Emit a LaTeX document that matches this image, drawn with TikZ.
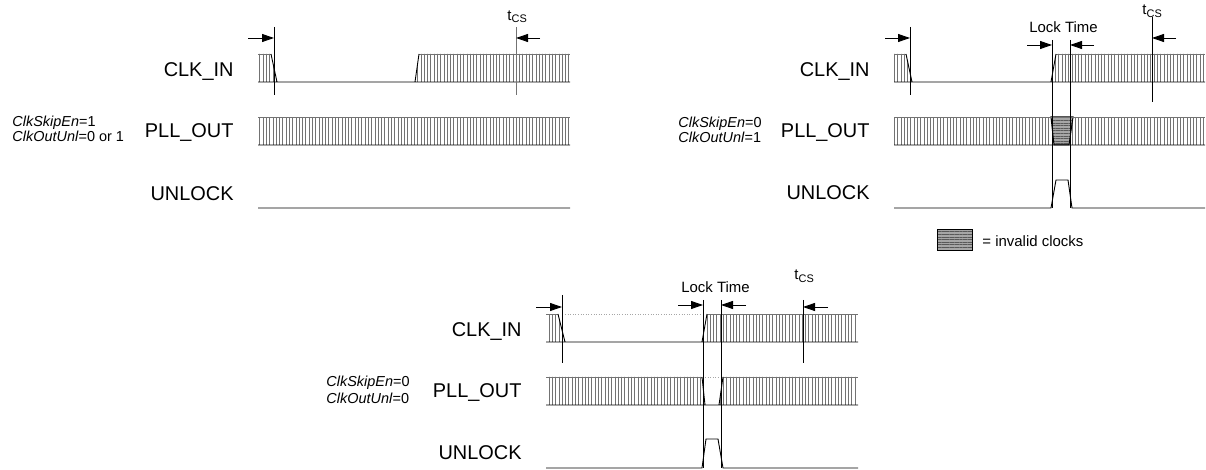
\documentclass[tikz,border=0pt]{standalone}
\usepackage{fontspec}
\setmainfont{Liberation Sans}
\usetikzlibrary{arrows.meta,patterns.meta}
\newcommand{\clkfill}[1]
{   \fill[pattern={Lines[angle=90,distance=3.3pt,line width=.6pt]},pattern color=black!55] #1;
}
\newcommand{\badfill}[1]
{   \fill[black!35] #1;
    \fill[pattern={Lines[angle=0,distance=2.6pt,line width=.5pt]},pattern color=black!65] #1;
    \draw[line width=1bp] #1;
}
\newcommand{\tcs}{t\raisebox{-2.5pt}{\fontsize{11}{11}\selectfont CS}}

\begin{document}
\begin{tikzpicture}[x=1bp,y=-1bp,line width=.9bp,
   lbl/.style={anchor=base east,inner sep=0pt,font=\fontsize{20}{24}\selectfont},
   cfg/.style={anchor=base west,inner sep=0pt,font=\fontsize{14.5}{16}\selectfont},
   note/.style={anchor=base,inner sep=0pt,font=\fontsize{15}{18}\selectfont},
   edge/.style={black!55},
   dim/.style={-{Triangle[length=12bp,width=8bp]}}]
   \useasboundingbox (0,0) rectangle (1206,470);

   \node[lbl] (clkA) at (234,77) {CLK\_IN};
   \node[lbl] (pllA) at (234,138) {PLL\_OUT};
   \node[lbl] (unlA) at (234,200.5) {UNLOCK};
   \node[cfg] (skipA) at (12,126.5) {\textit{ClkSkipEn}=1};
   \node[cfg] (outA) at (12,141.5) {\textit{ClkOutUnl}=0 or 1};
   \clkfill{(258,54) -- (271,54) -- (277,82) -- (258,82) -- cycle}
   \clkfill{(415,82) -- (419,54) -- (570,54) -- (570,82) -- cycle}
   \clkfill{(258,117) rectangle (570,145)}
   \draw[edge] (258,54) -- (271,54) (419,54) -- (570,54) (258,117) -- (570,117);
   \draw (271,54) -- (277,82) (258,82) -- (570,82) (415,82) -- (419,54) (258,145) -- (570,145) (258,208) -- (570,208);
   \draw (274,27) -- (274,95);
   \draw[black!55] (516,27) -- (516,95);
   \draw[dim] (248,38) -- (274,38);
   \draw[dim] (540,38) -- (516,38);
   \node[note,anchor=base west] (tcsA) at (507,20.5) {\tcs};

   \node[lbl] (clkB) at (870,77) {CLK\_IN};
   \node[lbl] (pllB) at (870,138) {PLL\_OUT};
   \node[lbl] (unlB) at (870,200) {UNLOCK};
   \node[cfg] (skipB) at (678,127.7) {\textit{ClkSkipEn}=0};
   \node[cfg] (outB) at (678,142.7) {\textit{ClkOutUnl}=1};
   \clkfill{(894,54) -- (906,54) -- (912,82) -- (894,82) -- cycle}
   \clkfill{(1051,82) -- (1056,54) -- (1205,54) -- (1205,82) -- cycle}
   \clkfill{(894,117) rectangle (1205,145)}
   \badfill{(1051,117) -- (1073,117) -- (1069,145) -- (1054,145) -- cycle}
   \draw[edge] (894,54) -- (906,54) (1056,54) -- (1205,54) (894,117) -- (1205,117);
   \draw (906,54) -- (912,82) (894,82) -- (1205,82) (1051,82) -- (1056,54) (894,145) -- (1205,145);
   \draw (894,208) -- (1051,208) -- (1056,180) -- (1068,180) -- (1072,208) -- (1205,208);
   \draw (910,27) -- (910,95) (1152,17) -- (1152,102) (1052,40) -- (1052,208) (1070,40) -- (1070,208);
   \draw[dim] (885,38) -- (910,38);
   \draw[dim] (1176,38) -- (1152,38);
   \draw[dim] (1027,45) -- (1052,45);
   \draw[dim] (1094,45) -- (1070,45);
   \node[note] (lockB) at (1063.5,33) {Lock Time};
   \node[note,anchor=base west] (tcsB) at (1142,15) {\tcs};
   \badfill{(937,230) rectangle (972,251)}
   \node[note,anchor=base west] (keyB) at (982,246.5) {= invalid clocks};

   \node[lbl] (clkC) at (522,336.7) {CLK\_IN};
   \node[lbl] (pllC) at (522,398) {PLL\_OUT};
   \node[lbl] (unlC) at (522,460) {UNLOCK};
   \node[cfg] (skipC) at (326,387) {\textit{ClkSkipEn}=0};
   \node[cfg] (outC) at (326,404) {\textit{ClkOutUnl}=0};
   \clkfill{(546,314) -- (558,314) -- (565,342) -- (546,342) -- cycle}
   \clkfill{(702,342) -- (707,314) -- (858,314) -- (858,342) -- cycle}
   \clkfill{(546,377) -- (702,377) -- (705,405) -- (546,405) -- cycle}
   \clkfill{(719,405) -- (723,377) -- (858,377) -- (858,405) -- cycle}
   \draw[edge] (546,314) -- (558,314) (707,314) -- (858,314) (546,377) -- (702,377) (723,377) -- (858,377);
   \draw[black!35,dotted,line width=.6bp] (565,314) -- (702,314) (705,377) -- (719,377);
   \draw (558,314) -- (565,342) (546,342) -- (858,342) (702,342) -- (707,314) (702,377) -- (705,405) (719,405) -- (723,377) (546,405) -- (858,405);
   \draw (546,468) -- (702,468) -- (706,439) -- (718,439) -- (723,468) -- (858,468);
   \draw (562,295) -- (562,363) (803,300) -- (803,363) (703,300) -- (703,468) (721,300) -- (721,468);
   \draw[dim] (536,307) -- (562,307);
   \draw[dim] (828,307) -- (803,307);
   \draw[dim] (678,305) -- (703,305);
   \draw[dim] (746,305) -- (721,305);
   \node[note] (lockC) at (715.5,293) {Lock Time};
   \node[note,anchor=base west] (tcsC) at (794,280) {\tcs};
\end{tikzpicture}
\end{document}
